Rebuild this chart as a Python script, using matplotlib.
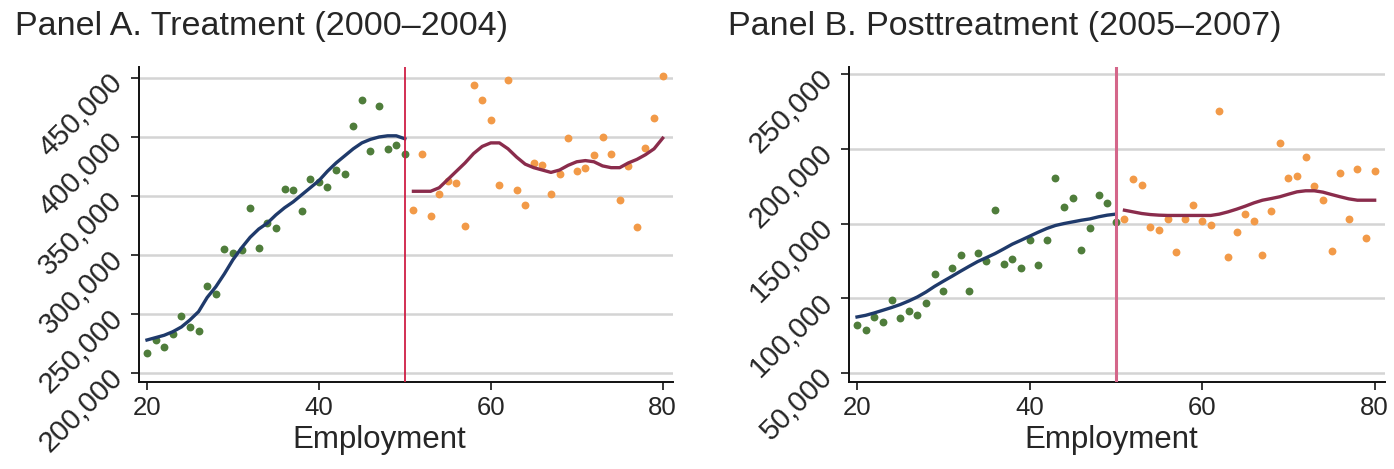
import matplotlib
matplotlib.use('Agg')
import matplotlib.pyplot as plt

plt.rcParams['font.family'] = ['Liberation Sans', 'DejaVu Sans']

# employment bins
x_left = list(range(20, 51))
x_right = list(range(51, 81))

# Panel A (treatment 2000-2004) - binned means, in thousands
a_pts_left = [217, 228, 222, 233, 248, 239, 236, 274, 267, 305, 302, 304, 340, 306, 327, 323,
              356, 355, 337, 364, 362, 358, 372, 369, 409, 431, 388, 426, 390, 393, 386]
a_pts_right = [338, 386, 333, 352, 363, 361, 325, 444, 431, 414, 359, 448, 355, 342, 378, 376,
               352, 369, 399, 371, 374, 385, 400, 386, 347, 375, 324, 391, 416, 452]
a_fit_left = [228, 230, 232, 235, 239, 245, 252, 264, 273, 284, 296, 306, 315, 322, 327, 334,
              340, 345, 351, 357, 363, 371, 378, 384, 390, 395, 398, 400, 401, 401, 398.5]
a_fit_right = [354, 354, 354, 357, 364, 371, 378, 386, 392, 395, 395, 390, 383, 377, 374, 372,
               370, 372, 376, 379, 380, 379, 375.5, 374, 374, 378, 381, 385, 390, 399]

# Panel B (posttreatment 2005-2007)
b_pts_left = [82, 79, 87.5, 84, 99, 87, 91.5, 89, 97, 116, 105, 120.5, 129, 105, 130, 125,
              159, 123, 126, 120.5, 139, 122, 139, 180.5, 161, 167, 132, 147, 169, 164, 151]
b_pts_right = [153, 179.5, 175.7, 148, 145.5, 153, 131, 153, 162.7, 152, 149, 225.4, 127.7, 144.4,
               156.7, 151.6, 129.2, 158.5, 203.6, 180.6, 182, 194.6, 175.2, 165.6, 131.7, 183.5,
               153.3, 186.8, 140.6, 185]
b_fit_left = [87.5, 88.6, 90.2, 92, 93.8, 95.8, 98.2, 100.9, 104.2, 108, 111.4, 114.7, 118.1,
              121.4, 124.6, 127.2, 129.9, 133, 136.2, 138.8, 141.5, 144.2, 146.7, 148.7, 150,
              151.1, 152.2, 153.1, 154.5, 155.6, 156.3]
b_fit_right = [158.9, 157.8, 156.7, 156, 155.6, 155.4, 155.4, 155.4, 155.4, 155.4, 155.4, 156.3,
               157.8, 159.6, 161.6, 163.8, 165.6, 166.7, 167.9, 169.6, 171.2, 171.9, 171.9, 171,
               169.4, 167.9, 166.5, 165.6, 165.6, 165.6]

a_yticks = [200, 250, 300, 350, 400, 450]
b_yticks = [50, 100, 150, 200, 250]
xticks = [20, 40, 60, 80]

GREEN = '#4f7d3b'
ORANGE = '#f29a48'
BLUE = '#1f3a6b'
MAROON = '#8a2c4c'
TXT = '#262626'

fig = plt.figure(figsize=(13.94, 4.69), dpi=100)

W, H = 1394, 469


def panel(rect, pts_l, pts_r, fit_l, fit_r, yticks, ylim, vcol, vlw, xlab_x, title, title_x):
    l, r, t, b = rect
    ax = fig.add_axes([l / W, 1 - b / H, (r - l) / W, (b - t) / H])
    ax.scatter(x_left, [v * 1000 for v in pts_l], s=32, color=GREEN, zorder=3, linewidths=0)
    ax.scatter(x_right, [v * 1000 for v in pts_r], s=32, color=ORANGE, zorder=3, linewidths=0)
    ax.plot(x_left, [v * 1000 for v in fit_l], color=BLUE, lw=2.4, zorder=4)
    ax.plot(x_right, [v * 1000 for v in fit_r], color=MAROON, lw=2.4, zorder=4)
    ax.axvline(50, color=vcol, lw=vlw, zorder=5)

    ax.set_xlim(19.07, 81.2)
    ax.set_ylim(*ylim)
    ax.set_xticks(xticks)
    ax.set_yticks([v * 1000 for v in yticks])
    ax.set_yticklabels(['{:,}'.format(v * 1000) for v in yticks], rotation=45,
                       rotation_mode='anchor', ha='right', va='center')
    ax.tick_params(axis='both', labelcolor=TXT, length=6, width=1.3, color=TXT)
    ax.tick_params(axis='x', pad=4, labelsize=18.5)
    ax.tick_params(axis='y', pad=9, labelsize=21)
    ax.grid(axis='y', color='#d4d4d4', lw=1.8, zorder=0)
    ax.set_axisbelow(True)
    for s in ['top', 'right']:
        ax.spines[s].set_visible(False)
    for s in ['left', 'bottom']:
        ax.spines[s].set_linewidth(1.4)
        ax.spines[s].set_color('#111111')
    ax.set_xlabel('Employment', fontsize=22.5, color=TXT)
    ax.xaxis.set_label_coords(xlab_x, -0.135)
    fig.text(title_x / W, 1 - 27 / H, title, fontsize=24.5, color=TXT, ha='left', va='center')
    return ax


panel((139, 673, 67, 382), a_pts_left, a_pts_right, a_fit_left, a_fit_right,
      a_yticks, (192400, 459300), '#cf1f45', 1.3, 0.45, 'Panel A. Treatment (2000\u20132004)', 15)
panel((849, 1385, 67, 382), b_pts_left, b_pts_right, b_fit_left, b_fit_right,
      b_yticks, (44000, 254700), '#d4668a', 2.2, 0.49, 'Panel B. Posttreatment (2005\u20132007)', 728)

fig.savefig('out.png', dpi=100)
